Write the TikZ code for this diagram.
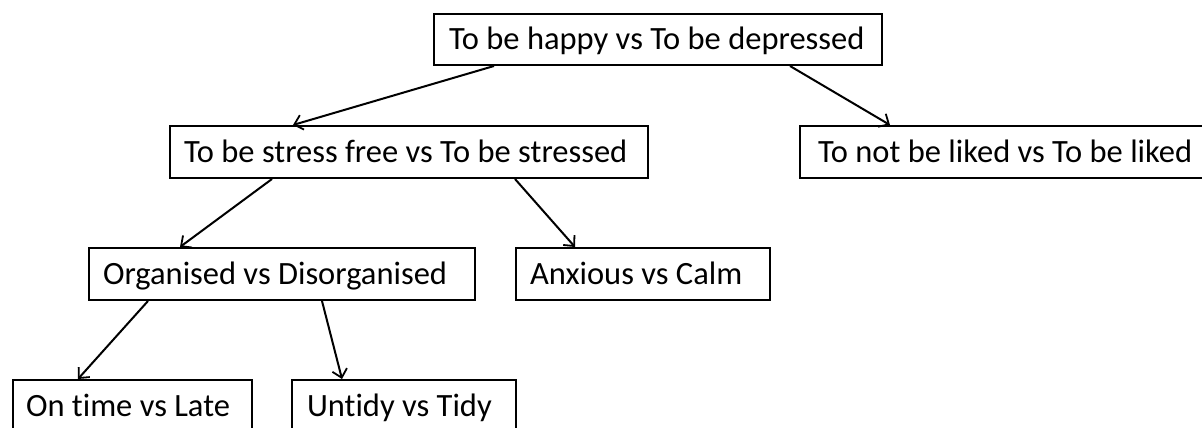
\documentclass[tikz,border=0pt]{standalone}
\usepackage{fontspec}
\setmainfont[Ligatures={NoCommon}]{Carlito}
\usetikzlibrary{arrows.meta}
\newcommand{\bxt}[3]{\makebox[#1][l]{\hspace*{#2}#3}}
\begin{document}
\begin{tikzpicture}[x=1pt,y=-1pt,
  box/.style={draw=black, line width=2pt, anchor=north west, inner xsep=0pt, inner ysep=0pt,
    text height=36pt, text depth=16pt, font=\fontsize{32.5}{36}\selectfont},
  conn/.style={line width=2pt, -{Straight Barb[length=8pt,width=15pt,line width=1.8pt]}}]
\useasboundingbox[fill=white] (0,0) rectangle (1202,428);
\node[box, text depth=15pt] (b1) at (433,13) {\bxt{448pt}{15pt}{To be happy vs To be depressed}};
\node[box] (b2) at (169,125) {\bxt{478pt}{14pt}{To be stress free vs To be stressed}};
\node[box] (b3) at (799,125) {\bxt{420pt}{18pt}{To not be liked vs To be liked}};
\node[box] (b4) at (88,247) {\bxt{386pt}{14pt}{Organised vs Disorganised}};
\node[box] (b5) at (515,247) {\bxt{254pt}{14pt}{Anxious vs Calm}};
\node[box] (b6) at (12,379) {\bxt{239pt}{13pt}{On time vs Late}};
\node[box] (b7) at (291,379) {\bxt{224pt}{15pt}{Untidy vs Tidy}};
\draw[conn] ([xshift=61pt]b1.south west) -- ([xshift=124pt]b2.north west);
\draw[conn] ([xshift=357pt]b1.south west) -- ([xshift=91pt]b3.north west);
\draw[conn] ([xshift=103pt]b2.south west) -- ([xshift=92pt]b4.north west);
\draw[conn] ([xshift=346pt]b2.south west) -- ([xshift=60pt]b5.north west);
\draw[conn] ([xshift=60pt]b4.south west) -- ([xshift=66pt]b6.north west);
\draw[conn] ([xshift=234pt]b4.south west) -- ([xshift=51pt]b7.north west);
\end{tikzpicture}
\end{document}
